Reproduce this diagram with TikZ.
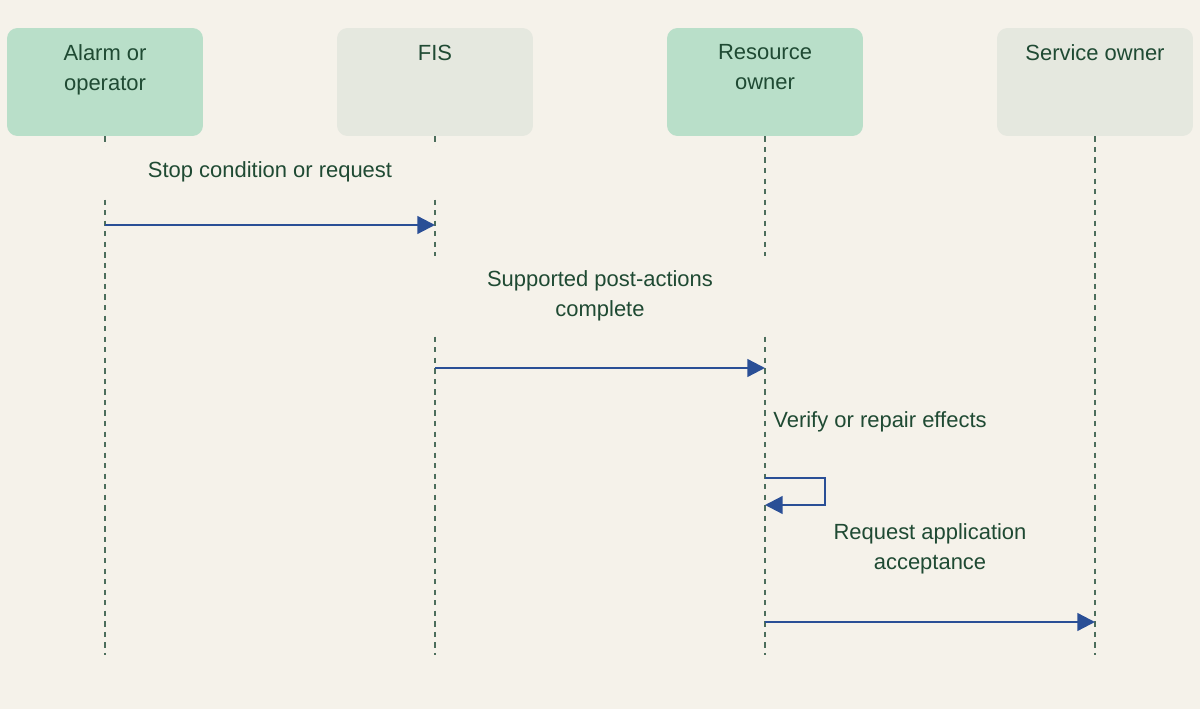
\documentclass[tikz,border=0pt]{standalone}
\usepackage{fontspec}
\setmainfont{Liberation Sans}
\usetikzlibrary{positioning, arrows.meta}
\definecolor{bgpaper}{HTML}{F5F2EA}
\definecolor{actgreen}{HTML}{B9DFC9}
\definecolor{actgrey}{HTML}{E5E8DF}
\definecolor{inkgreen}{HTML}{1F4A33}
\definecolor{msgblue}{HTML}{2A4F96}
\tikzset{
  actor/.style={rounded corners=6pt, minimum width=3.92cm, minimum height=2.16cm, inner sep=0pt},
  actortext/.style={anchor=north, align=center, text=inkgreen, font=\fontsize{12.5}{17}\selectfont},
  lifeline/.style={draw=inkgreen!80, dashed, line width=1.1pt, dash pattern=on 3pt off 3pt},
  msg/.style={draw=msgblue, line width=1.3pt, -{Triangle[length=10pt,width=10pt]}},
  msgtext/.style={fill=bgpaper, align=center, text=inkgreen, font=\fontsize{12.5}{17}\selectfont, inner sep=4pt}
}
\begin{document}
\begin{tikzpicture}[x=0.02cm, y=-0.02cm]
    \fill[bgpaper] (0,0) rectangle (1200,709);
    \useasboundingbox (0,0) rectangle (1200,709);

    % actors
    \node [actor, fill=actgreen] (A) at (105,82) {};
    \node [actor, fill=actgrey] (F) at (435,82) {};
    \node [actor, fill=actgreen] (R) at (765,82) {};
    \node [actor, fill=actgrey] (S) at (1095,82) {};
    \node [actortext] at ([yshift=-0.22cm]A.north) {Alarm or\\operator};
    \node [actortext] at ([yshift=-0.22cm]F.north) {FIS};
    \node [actortext] at ([yshift=-0.22cm]R.north) {Resource\\owner};
    \node [actortext] at ([yshift=-0.22cm]S.north) {Service owner};

    % lifelines
    \coordinate (Aend) at (105,655);
    \coordinate (Fend) at (435,655);
    \coordinate (Rend) at (765,655);
    \coordinate (Send) at (1095,655);
    \draw [lifeline] (A.south) -- (Aend);
    \draw [lifeline] (F.south) -- (Fend);
    \draw [lifeline] (R.south) -- (Rend);
    \draw [lifeline] (S.south) -- (Send);

    % messages
    \node [msgtext, minimum width=6.8cm, minimum height=1.0cm] (L1) at (270,172) {Stop condition or request};
    \coordinate (a1) at (105,225);
    \coordinate (f1) at (435,225);
    \draw [msg] (a1) -- (f1);

    \node [msgtext, minimum width=6.8cm, minimum height=1.6cm] (L2) at (600,296) {Supported post-actions\\complete};
    \coordinate (f2) at (435,368);
    \coordinate (r2) at (765,368);
    \draw [msg] (f2) -- (r2);

    \node [msgtext, inner sep=2pt] (L3) at (880,422) {Verify or repair effects};
    \coordinate (r3) at (765,478);
    \coordinate (r3b) at (765,505);
    \draw [msg] (r3) -- ++(60,0) |- (r3b);

    \node [msgtext, inner sep=2pt] (L4) at (930,549) {Request application\\acceptance};
    \coordinate (r4) at (765,622);
    \coordinate (s4) at (1095,622);
    \draw [msg] (r4) -- (s4);
\end{tikzpicture}
\end{document}
